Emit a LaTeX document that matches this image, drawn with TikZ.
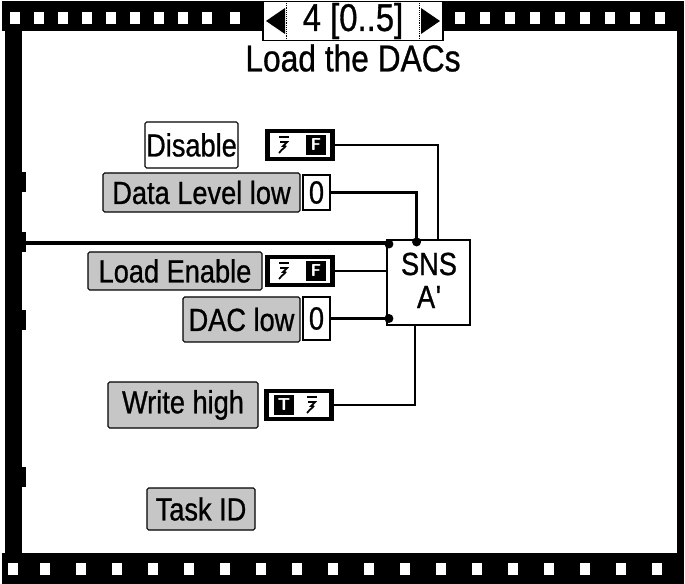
\documentclass[tikz,border=0pt]{standalone}
\usepackage{fontspec}
\newfontfamily\lv[FakeStretch=0.85,FakeBold=0.8]{Liberation Sans}
\usetikzlibrary{calc}
\begin{document}
\begin{tikzpicture}[x=0.75pt,y=-0.75pt,
  lbl/.style={font=\lv\fontsize{24}{25}\selectfont, inner sep=0pt, text=black},
  gbox/.style={lbl, draw=black, line width=0.8pt, fill=gray!45, rounded corners=1.2pt},
  wbox/.style={lbl, draw=black, line width=0.8pt, fill=white, rounded corners=1.2pt},
  bconst/.style={draw=black, line width=3.4pt, fill=white, minimum width=49pt, minimum height=21pt, inner sep=0pt},
  numc/.style={lbl, draw=black, line width=1pt, fill=white, minimum width=20.25pt},
  thinwire/.style={line width=1.1pt},
  thickwire/.style={line width=2.4pt},
  blob/.style={fill=black},
  bsq/.style={fill=black, minimum width=15pt, minimum height=14.5pt, inner sep=0pt, text=white, font=\sffamily\bfseries\fontsize{13}{13}\selectfont},
  glyph/.style={line width=1.3pt}
]
\useasboundingbox (0,0) rectangle (685,584);
% frame
\fill[white] (0,0) rectangle (685,584);
\fill[black] (2,1) rectangle (684,31);
\fill[black] (2,553) rectangle (684,584);
\fill[black] (5,1) rectangle (22,584);
\fill[black] (677,1) rectangle (684,584);
\foreach \y in {172,232,310,467} \fill[black] (5,\y) rectangle (26,\y+20);
\foreach \x in {10,34,58,82,106,130,154,178,202,230} \fill[white] (\x,12) rectangle ++(10,12);
\foreach \x in {455,480,505,530,555,580,605,630,655} \fill[white] (\x,12) rectangle ++(10,12);
\foreach \x in {8,40,76,112,148,184,220,256,292,328,364,400,436,472,508,544,580,616,652} \fill[white] (\x,563) rectangle ++(10,12);
% counter
\node[draw=black, line width=1pt, fill=white, minimum width=135pt, minimum height=29pt, inner sep=0pt] (ctrbox) at (353,21) {};
\draw[densely dotted] ($(ctrbox.north west)+(24,0)$) -- ($(ctrbox.south west)+(24,0)$);
\draw[densely dotted] ($(ctrbox.north east)+(-24,0)$) -- ($(ctrbox.south east)+(-24,0)$);
\fill[black] (266,21) -- (285,8) -- (285,34) -- cycle;
\fill[black] (440,21) -- (421,8) -- (421,34) -- cycle;
\node[lbl, font=\lv\fontsize{29}{30}\selectfont] (ctr) at (353,21) {4 [0..5]};
\node[lbl, font=\lv\fontsize{28}{29}\selectfont] (title) at (353,58) {Load the DACs};
% labels
\node[wbox, minimum width=69.75pt, minimum height=34.5pt] (dis) at (191.5,145) {Disable};
\node[gbox, minimum width=147.75pt, minimum height=29.25pt] (dll) at (201.5,192.5) {Data Level low};
\node[gbox, minimum width=130.5pt, minimum height=28.5pt] (le) at (175,271) {Load Enable};
\node[gbox, minimum width=87.75pt, minimum height=33.75pt] (dac) at (241.5,319.5) {DAC low};
\node[gbox, minimum width=112.5pt, minimum height=34.5pt] (wh) at (183,405) {Write high};
\node[gbox, minimum width=81pt, minimum height=31.5pt] (tid) at (201,509) {Task ID};
% constants
\node[bconst] (b1) at (300,145) {};
\node[bconst] (b2) at (300,271) {};
\node[bconst] (b3) at (299,405) {};
\node[numc, minimum height=26.25pt] (z1) at (316.5,192.5) {0};
\node[numc, minimum height=32.25pt] (z2) at (316.5,318.5) {0};
% boolean contents
\node[bsq] (f1) at ($(b1.east)+(-19,0)$) {F};
\node[bsq] (f2) at ($(b2.east)+(-19,0)$) {F};
\node[bsq] (t3) at ($(b3.west)+(20,0)$) {T};
\foreach \c/\dx in {b1/19, b2/19, b3/48} {
  \draw[glyph] ($(\c.west)+(\dx,0)+(-5,-8)$) -- ++(10,0);
  \draw[glyph] ($(\c.west)+(\dx,0)+(-4,-3)$) -- ++(7,0) -- ++(-4,4) .. controls ++(6,0) and ++(3,-5) .. ++(-4,7);
}
% SNS block
\node[draw=black, line width=1.6pt, fill=white, minimum width=62.25pt, minimum height=63.75pt, inner sep=0pt] (sns) at (428.5,282.5) {};
\node[lbl] (snst) at (429,264) {SNS};
\node[lbl] (snsa) at (429,297) {A\kern0.5pt'};
% wires
\coordinate (pDis) at ($(sns.north west)!0.61!(sns.north east)$);
\coordinate (pDll) at ($(sns.north west)!0.36!(sns.north east)$);
\coordinate (pWh) at ($(sns.south west)!0.34!(sns.south east)$);
\coordinate (inL) at (22,243);
\draw[thinwire] (b1.east) -| (pDis);
\draw[thickwire] (z1.east) -| (pDll);
\draw[thickwire] (inL) -- (inL -| sns.west);
\draw[thinwire] (b2.east) -- (b2.east -| sns.west);
\draw[thickwire] (z2.east) -- (z2.east -| sns.west);
\draw[thinwire] (pWh) |- (b3.east);
% terminal blobs
\fill[blob] ($(inL -| sns.west)+(3,1)$) circle (4.5);
\fill[blob] ($(pDll)+(0,3)$) circle (4.5);
\fill[blob] ($(z2.east -| sns.west)+(3,0)$) circle (4.5);
\end{tikzpicture}
\end{document}
